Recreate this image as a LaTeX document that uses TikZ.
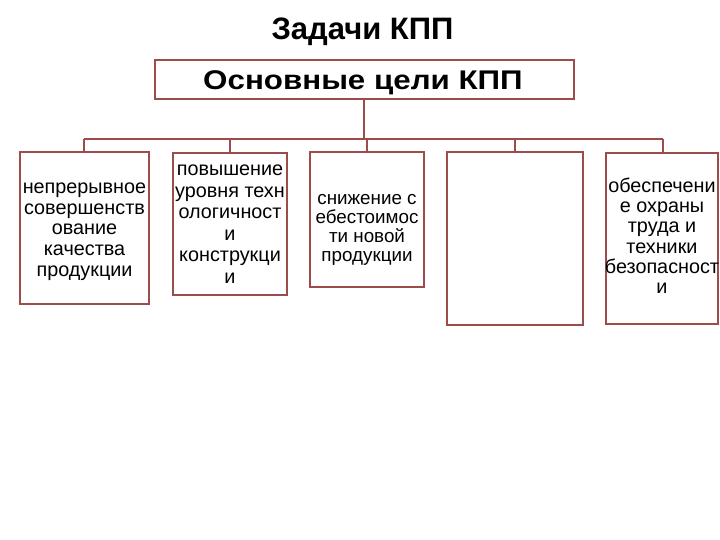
\documentclass[tikz,border=0pt]{standalone}
\usepackage{fontspec}
\setmainfont{Liberation Sans}
\newfontfamily\stretchfont[FakeStretch=1.16]{Liberation Sans}
\definecolor{lc}{HTML}{9E4B4B}
\begin{document}
\begin{tikzpicture}[x=1pt,y=-1pt,
  box/.style={draw=lc,line width=2pt,fill=white},
  conn/.style={draw=lc,line width=2pt},
  txt/.style={anchor=base,font=\fontsize{19.8}{21}\selectfont,inner sep=0pt,text height=11pt,text depth=3pt}]
\useasboundingbox (0,0) rectangle (720,540);
\node[anchor=base,inner sep=0pt,font=\fontsize{31}{34}\bfseries] (title) at (362.5,40) {Задачи КПП};
\draw[box] (155,60) rectangle (574,99);
\node[anchor=base,inner sep=0pt,font=\stretchfont\fontsize{27}{30}\bfseries] (main) at (363,89.3) {Основные цели КПП};
\coordinate (mb) at (364,99);
\coordinate (hj) at (364,139);
\coordinate (hl) at (84,139);
\coordinate (hr) at (663,139);
\draw[conn] (mb) -- (hj);
\draw[conn] (hl) -- (hr);
% boxes
\draw[box] (20,152) rectangle (149,304);
\draw[box] (173,153) rectangle (287,295);
\draw[box] (310,152) rectangle (424,287);
\draw[box] (447,152) rectangle (583,325);
\draw[box] (606,153) rectangle (718,324);
\coordinate (t1) at (84,152);
\coordinate (t2) at (230,153);
\coordinate (t3) at (367,152);
\coordinate (t4) at (515,152);
\coordinate (t5) at (663,153);
\coordinate (d1) at (84,139);
\coordinate (d2) at (230,139);
\coordinate (d3) at (367,139);
\coordinate (d4) at (515,139);
\coordinate (d5) at (663,139);
\foreach \i in {1,...,5} \draw[conn] (d\i) -- (t\i);
\foreach \l [count=\k] in {непрерывное,совершенств,ование,качества,продукции}
  \node[txt] (ba\k) at (84.5,{194+(\k-1)*20.5}) {\l};
\foreach \l [count=\k] in {повышение,уровня техн,ологичност,и,конструкци,и}
  \node[txt] (bb\k) at (230,{176+(\k-1)*21.4}) {\l};
\foreach \l [count=\k] in {снижение с,ебестоимос,ти новой,продукции}
  \node[txt,font=\fontsize{18.8}{20}\selectfont] (bc\k) at (367,{205+(\k-1)*18.7}) {\l};
\foreach \l [count=\k] in {обеспечени,е охраны,труда и,техники,безопасност,и}
  \node[txt] (be\k) at (662,{193+(\k-1)*20}) {\l};
\end{tikzpicture}
\end{document}
